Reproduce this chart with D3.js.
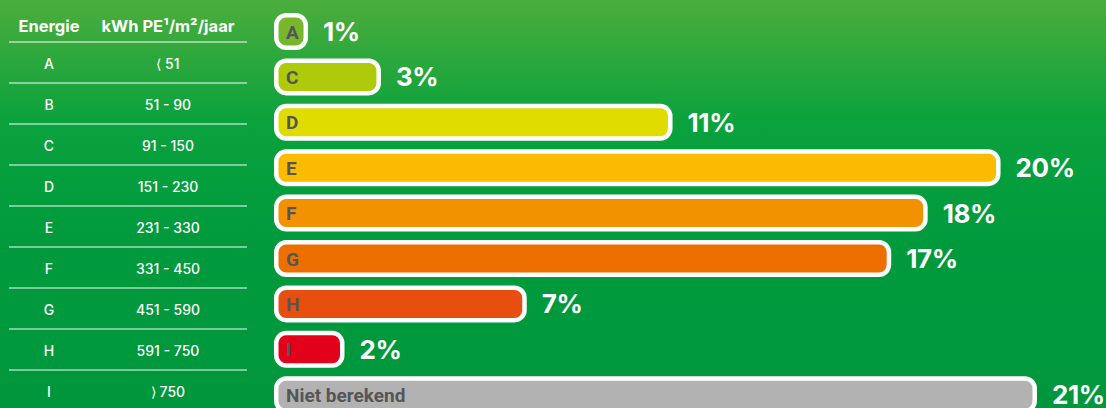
<!DOCTYPE html>
<html>
<head>
<meta charset="utf-8">
<script src="https://cdn.jsdelivr.net/npm/d3@7"></script>
<style>
  html, body { margin: 0; padding: 0; background: #009a3d; }
  svg { display: block; }
  text { font-family: Inter, Roboto, "Liberation Sans", sans-serif; }
</style>
</head>
<body>
<svg id="chart" width="1106" height="408"></svg>
<script>
// Energy label distribution
const labels = ["A", "C", "D", "E", "F", "G", "H", "I", "Niet berekend"];
const shares = [1, 3, 11, 20, 18, 17, 7, 2, 21];
const barColors = ["#77b72c", "#afca0b", "#e0dc00", "#fdbb00", "#f39200", "#ec6f00", "#e84e0f", "#e2001a", "#b2b2b2"];

// Reference table: class and primary energy range
const tableHeaders = ["Energie", "kWh PE\u00b9/m\u00b2/jaar"];
const classes = ["A", "B", "C", "D", "E", "F", "G", "H", "I"];
const ranges = ["\u27e8 51", "51 - 90", "91 - 150", "151 - 230", "231 - 330", "331 - 450", "451 - 590", "591 - 750", "\u27e9 750"];

const W = 1106, H = 408;
const svg = d3.select("#chart");

// Background gradient
const defs = svg.append("defs");
const grad = defs.append("linearGradient").attr("id", "bg").attr("x1", 0).attr("y1", 0).attr("x2", 0).attr("y2", 1);
grad.append("stop").attr("offset", "0%").attr("stop-color", "#4cad3c");
grad.append("stop").attr("offset", "30%").attr("stop-color", "#0aa23d");
grad.append("stop").attr("offset", "60%").attr("stop-color", "#009a3d");
grad.append("stop").attr("offset", "100%").attr("stop-color", "#00973c");
svg.append("rect").attr("width", W).attr("height", H).attr("fill", "url(#bg)");

// ---- Table ----
const table = svg.append("g");
const colX = [49, 168];
table.selectAll("text.head").data(tableHeaders).join("text")
  .attr("class", "head")
  .attr("x", (d, i) => colX[i]).attr("y", 32)
  .attr("text-anchor", "middle")
  .attr("fill", "#fff").attr("font-size", 16.5).attr("font-weight", 700)
  .text(d => d);

const rowY = d3.scaleBand().domain(classes).range([42, 42 + 41 * classes.length]);

table.selectAll("line.sep").data(classes).join("line")
  .attr("class", "sep")
  .attr("x1", 9).attr("x2", 247)
  .attr("y1", d => rowY(d)).attr("y2", d => rowY(d))
  .attr("stroke", "#ffffff").attr("stroke-opacity", 0.65).attr("stroke-width", 1.5);

const rows = table.selectAll("g.row").data(classes).join("g")
  .attr("class", "row")
  .attr("transform", d => `translate(0,${rowY(d) + rowY.bandwidth() / 2 + 6})`);
rows.append("text").attr("x", colX[0]).attr("text-anchor", "middle")
  .attr("fill", "#fff").attr("font-size", 14).attr("font-weight", 500)
  .text(d => d);
rows.append("text").attr("x", colX[1]).attr("text-anchor", "middle")
  .attr("fill", "#fff").attr("font-size", 14).attr("font-weight", 500)
  .text((d, i) => ranges[i]);

// ---- Bars ----
const x = d3.scaleLinear().domain([0, 21]).range([271.6, 1037]);
const y = d3.scaleBand().domain(labels).range([8.8, 8.8 + 45.4 * labels.length])
  .paddingInner(0.185).paddingOuter(0.0925);

const data = labels.map((l, i) => ({ label: l, value: shares[i], color: barColors[i] }));
const left = 274, sw = 4.5;

const bars = svg.append("g").selectAll("g.bar").data(data).join("g").attr("class", "bar");

bars.append("rect")
  .attr("x", left + sw / 2)
  .attr("y", d => y(d.label) + sw / 2)
  .attr("width", d => x(d.value) - left - sw)
  .attr("height", y.bandwidth() - sw)
  .attr("rx", 10).attr("ry", 10)
  .attr("fill", d => d.color)
  .attr("stroke", "#fff").attr("stroke-width", sw);

bars.append("text")
  .attr("x", left + 12)
  .attr("y", d => y(d.label) + y.bandwidth() / 2 + 7)
  .attr("fill", "#565656").attr("font-size", 19).attr("font-weight", 700)
  .style("font-family", "Roboto, sans-serif")
  .text(d => d.label);

bars.append("text")
  .attr("x", d => x(d.value) + 15)
  .attr("y", d => y(d.label) + y.bandwidth() / 2 + 9.5)
  .attr("fill", "#fff").attr("font-size", 26).attr("font-weight", 700)
  .attr("letter-spacing", -0.4)
  .text(d => d.value + "%");
</script>
</body>
</html>
